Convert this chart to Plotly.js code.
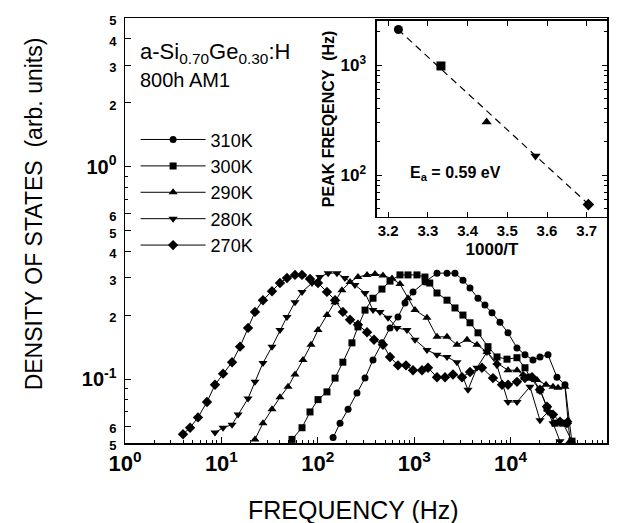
<!DOCTYPE html>
<html><head><meta charset="utf-8">
<script src="https://cdn.plot.ly/plotly-3.0.1.min.js"></script>
<style>html,body{margin:0;padding:0;background:#fff;}#chart{width:623px;height:523px;}</style>
</head><body><div id="chart"></div>
<script>
// ---- data ----
const seriesNames = ['310K', '300K', '290K', '280K', '270K'];

const f310 = [144,170,206,255,309,374,463,561,679,803,972,1294,1724,2190,2649,3206,3793,4589,5419,6413,7762,9397,11650,14100,17070,20180,24430,30280,36650,43340];
const d310 = [0.053,0.062,0.072,0.086,0.101,0.123,0.148,0.174,0.196,0.228,0.257,0.286,0.315,0.315,0.315,0.292,0.268,0.240,0.223,0.205,0.185,0.165,0.140,0.130,0.123,0.127,0.130,0.102,0.094,0.050];

const f300 = [54,68.6,83,100.5,124.5,151,182,226,261,309,374,463,561,712,862,1069,1294,1450,1724,2190,2649,3206,3793,4589,5829,7225,9179,11650,14100,15890,20180,23870,28900,34960,43340];
const d300 = [0.052,0.059,0.070,0.080,0.087,0.101,0.120,0.148,0.176,0.211,0.240,0.265,0.289,0.309,0.309,0.309,0.302,0.283,0.254,0.235,0.216,0.200,0.184,0.165,0.142,0.127,0.124,0.126,0.113,0.102,0.089,0.073,0.062,0.062,0.051];

const f290 = [22.3,27,33.5,40.5,49.1,58,70.2,85,100.5,124.5,151,178,216,261,324,392,474,589,712,862,1019,1357,1724,2190,2778,3532,4480,5686,7225,9397,11650,13450,15890,18790,23300,27540,31030,36650,39380,41300];
const d290 = [0.052,0.062,0.072,0.082,0.092,0.105,0.123,0.145,0.170,0.200,0.230,0.262,0.286,0.302,0.309,0.312,0.307,0.297,0.280,0.240,0.211,0.194,0.158,0.158,0.145,0.153,0.145,0.134,0.119,0.110,0.110,0.105,0.102,0.099,0.094,0.092,0.091,0.092,0.064,0.051];

const f280 = [8.58,10.4,12.9,14.9,18.9,22.3,27,33.5,40.5,47.9,58,68.6,87.1,105,128,158,191,243,309,374,442,535,663,842,1019,1357,1724,2190,2778,3614,4480,5686,7225,9397,11650,15890,20180,24430,27540,32530];
const d280 = [0.056,0.059,0.061,0.068,0.081,0.097,0.119,0.142,0.170,0.196,0.230,0.257,0.283,0.302,0.315,0.315,0.299,0.277,0.254,0.211,0.207,0.194,0.174,0.170,0.153,0.137,0.130,0.127,0.120,0.089,0.113,0.134,0.116,0.078,0.078,0.092,0.064,0.070,0.062,0.051];

const f270 = [4.0,4.73,5.72,7.09,8.58,10.4,12.9,15.6,18.9,22.3,27,33.5,40.5,47.9,58,68.6,83,100.5,124.5,151,182,216,261,324,383,474,561,679,822,972,1205,1390,1724,2088,2525,3133,3793,5048,6563,8147,9397,11650,14100,16680,20180,23870,27540,32530,38440];
const d270 = [0.055,0.059,0.066,0.078,0.094,0.106,0.120,0.142,0.174,0.207,0.235,0.259,0.283,0.299,0.309,0.309,0.296,0.283,0.257,0.235,0.207,0.190,0.180,0.166,0.153,0.145,0.127,0.116,0.116,0.110,0.110,0.113,0.102,0.102,0.105,0.102,0.108,0.113,0.101,0.094,0.094,0.097,0.101,0.102,0.089,0.074,0.068,0.063,0.062];

// inset: peak frequency vs 1000/T
const invT = [3.226, 3.333, 3.448, 3.571, 3.704];
const peakF = [2100, 980, 303, 149, 54];
const fitInvT = [3.225, 3.705];
const fitPeakF = [2100, 54];

const xTickVals = [1, 10, 100, 1000, 10000, 100000];
const xTickText = ['10<sup>0</sup>','10<sup>1</sup>','10<sup>2</sup>','10<sup>3</sup>','10<sup>4</sup>','10<sup>5</sup>'];
const yTickVals = [0.05, 0.06, 0.1, 0.2, 0.3, 0.4, 0.5, 0.6, 1, 2, 3, 4, 5];
const yTickText = ['5','6','10<sup>-1</sup>','2','3','4','5','6','10<sup>0</sup>','2','3','4','5'];
const insetXTicks = [3.2, 3.3, 3.4, 3.5, 3.6, 3.7];
const insetYTicks = [100, 1000];
const insetYText = ['10<sup>2</sup>', '10<sup>3</sup>'];

// ---- drawing ----
const FONT = 'Liberation Sans, Arial, Helvetica, sans-serif';
const symbols = ['circle', 'square', 'triangle-up', 'triangle-down', 'diamond'];
const sizes = [7, 7, 8, 8, 8];
const xs = [f310, f300, f290, f280, f270];
const ys = [d310, d300, d290, d280, d270];

const small = s => /sup/.test(s) ? s : '<span style="font-size:13px">' + s + '</span>';

const traces = [];
for (let i = 0; i < seriesNames.length; i++) {
  traces.push({
    x: xs[i], y: ys[i], name: seriesNames[i], type: 'scatter', mode: 'lines+markers',
    xaxis: 'x', yaxis: 'y',
    line: {color: '#000', width: 1},
    marker: {symbol: symbols[i], size: sizes[i], color: '#000'}
  });
}
for (let i = 0; i < invT.length; i++) {
  traces.push({
    x: [invT[i]], y: [peakF[i]], type: 'scatter', mode: 'markers', showlegend: false,
    xaxis: 'x2', yaxis: 'y2',
    marker: {symbol: symbols[i], size: 9, color: '#000'}
  });
}
traces.push({
  x: fitInvT, y: fitPeakF, type: 'scatter', mode: 'lines', showlegend: false,
  xaxis: 'x2', yaxis: 'y2', line: {color: '#000', width: 1.2, dash: '7px,5px'}
});

// minor tick positions
const xMinor = [];
for (let e = 0; e < 5; e++) for (let m = 2; m <= 9; m++) xMinor.push(m * Math.pow(10, e));
const yMinor = [0.07, 0.08, 0.09, 0.7, 0.8, 0.9];
const y2Minor = [];
for (let e = 1; e <= 3; e++) for (let m = 2; m <= 9; m++) { const v = m * Math.pow(10, e); if (v > 42 && v < 2500) y2Minor.push(v); }

const axisCommon = {
  showline: true, linecolor: '#000', linewidth: 1.5, showgrid: false, zeroline: false,
  ticks: 'inside', tickcolor: '#000', tickwidth: 1
};

const layout = {
  width: 623, height: 523,
  margin: {l: 125, r: 16, t: 18, b: 80},
  paper_bgcolor: '#fff', plot_bgcolor: 'rgba(0,0,0,0)',
  font: {family: FONT, color: '#000'},
  showlegend: true,
  legend: {
    x: 0.022, y: 0.757, xanchor: 'left', yanchor: 'top', bgcolor: 'rgba(0,0,0,0)',
    font: {family: FONT, size: 18, color: '#000'}, itemwidth: 65, tracegroupgap: 0
  },
  xaxis: Object.assign({}, axisCommon, {
    type: 'log', range: [0, 5], domain: [0, 1], anchor: 'y', mirror: true,
    tickmode: 'array', tickvals: xTickVals, ticktext: xTickText, ticklen: 6,
    tickfont: {family: FONT, size: 22, weight: 'bold'},
    minor: {tickvals: xMinor, ticks: 'inside', ticklen: 3, tickcolor: '#000'}
  }),
  yaxis: Object.assign({}, axisCommon, {
    type: 'log', range: [Math.log10(0.05), Math.log10(5)], domain: [0, 1], anchor: 'x', mirror: true,
    tickmode: 'array', tickvals: yTickVals, ticktext: yTickText.map(small), ticklen: 6,
    tickfont: {family: FONT, size: 20, weight: 'bold'}, ticklabelstandoff: 3,
    minor: {tickvals: yMinor, ticks: 'inside', ticklen: 3, tickcolor: '#000'}
  }),
  xaxis2: Object.assign({}, axisCommon, {
    type: 'linear', range: [3.172, 3.751], domain: [0.5228, 1], anchor: 'y2', mirror: 'ticks',
    tickmode: 'array', tickvals: insetXTicks, ticktext: insetXTicks.map(v => v.toFixed(1)), ticklen: 5,
    tickfont: {family: FONT, size: 15, weight: 'bold'},
    title: {text: '1000/T', font: {family: FONT, size: 17, weight: 'bold'}, standoff: 4}
  }),
  yaxis2: Object.assign({}, axisCommon, {
    type: 'log', range: [1.62, 3.4], domain: [0.532, 0.993], anchor: 'x2', mirror: 'ticks',
    tickmode: 'array', tickvals: insetYTicks, ticktext: insetYText, ticklen: 5,
    tickfont: {family: FONT, size: 17, weight: 'bold'}, ticklabelstandoff: 6,
    minor: {tickvals: y2Minor, ticks: 'inside', ticklen: 3, tickcolor: '#000'},
    title: {text: 'PEAK FREQENCY  (Hz)', font: {family: FONT, size: 16, weight: 'bold'}, standoff: 2}
  }),
  annotations: [
    {xref: 'paper', yref: 'paper', x: 0.475, y: -0.158, xanchor: 'center', yanchor: 'middle', showarrow: false,
     text: 'FREQUENCY (Hz)', font: {family: FONT, size: 25}},
    {xref: 'paper', yref: 'paper', x: -0.187, y: 0.54, xanchor: 'center', yanchor: 'middle', showarrow: false,
     textangle: -90, text: 'DENSITY OF STATES  (arb. units)', font: {family: FONT, size: 23}},
    {xref: 'paper', yref: 'paper', x: 0.027, y: 0.918, xanchor: 'left', yanchor: 'middle', showarrow: false,
     text: 'a-Si<sub>0.70</sub>Ge<sub>0.30</sub>:H', font: {family: FONT, size: 22}},
    {xref: 'paper', yref: 'paper', x: 0.027, y: 0.854, xanchor: 'left', yanchor: 'middle', showarrow: false,
     text: '800h AM1', font: {family: FONT, size: 20}},
    {xref: 'x2', yref: 'y2', x: 3.37, y: 2.018, xanchor: 'center', yanchor: 'middle', showarrow: false,
     text: 'E<sub>a</sub> = 0.59 eV', font: {family: FONT, size: 16, weight: 'bold'}}
  ]
};

Plotly.newPlot('chart', traces, layout, {staticPlot: true, displayModeBar: false});
</script>
</body></html>
